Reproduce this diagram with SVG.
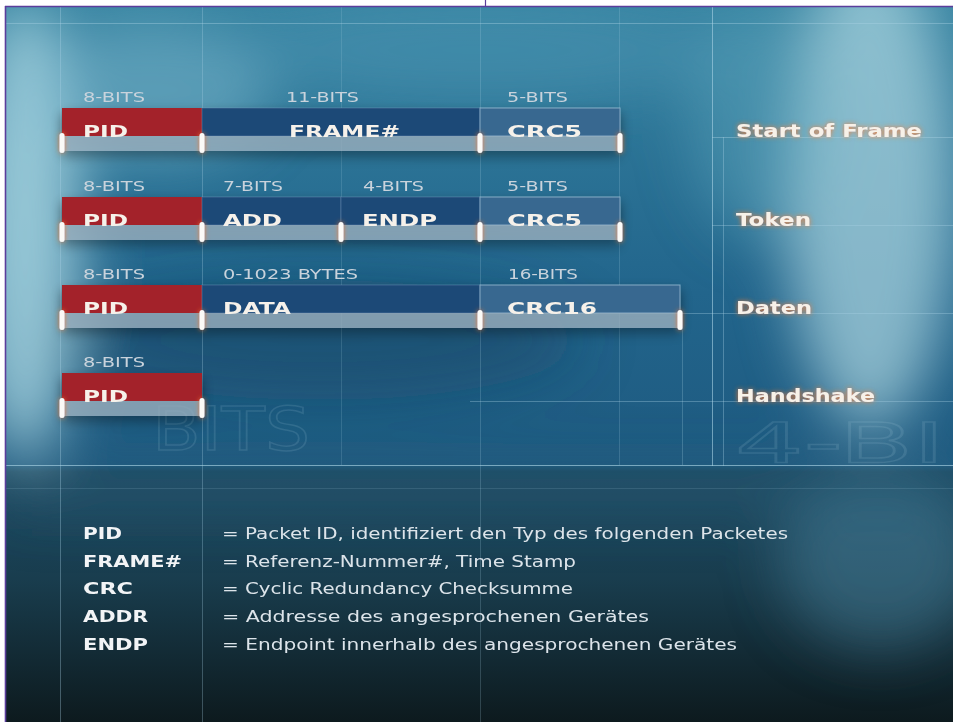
<svg xmlns="http://www.w3.org/2000/svg" width="953" height="722" viewBox="0 0 953 722">
<defs>
<style>
.grid line{stroke:#a9d2e4;stroke-width:1}
.bits{font-family:"DejaVu Sans",sans-serif;font-size:13.5px;fill:#c9d3dc}
.fld{font-family:"DejaVu Sans",sans-serif;font-weight:bold;font-size:16.5px;fill:#f6f1ea}
.lbl{font-family:"DejaVu Sans",sans-serif;font-weight:bold;font-size:17px;fill:#f7f1e8}
.term{font-family:"DejaVu Sans",sans-serif;font-weight:bold;font-size:16px;fill:#f2f4f6}
.def{font-family:"DejaVu Sans",sans-serif;font-size:16px;fill:#dce4ea}
.pid{fill:#a3232b}
.mid{fill:#1d4977;stroke:#6f93b5;stroke-opacity:.45;stroke-width:1}
.crc{fill:#386890;stroke:#a8c6dc;stroke-opacity:.7;stroke-width:1}
.bar{fill:#a3b8c8;fill-opacity:.7}
.tick{fill:#fbfaf7}
.wm{font-family:"DejaVu Sans",sans-serif;fill:none;stroke:#b4d4e4;stroke-opacity:.14;stroke-width:1.5}
</style>
<filter id="soft" x="-50%" y="-50%" width="200%" height="200%"><feGaussianBlur stdDeviation="28"/></filter>
<filter id="glow" x="-30%" y="-60%" width="160%" height="220%">
<feGaussianBlur in="SourceAlpha" stdDeviation="2.4" result="b"/>
<feFlood flood-color="#ff7a2a" flood-opacity="0.85"/>
<feComposite in2="b" operator="in" result="g"/>
<feMerge><feMergeNode in="g"/><feMergeNode in="SourceGraphic"/></feMerge>
</filter>
<filter id="shadow" x="-10%" y="-40%" width="120%" height="200%">
<feGaussianBlur in="SourceAlpha" stdDeviation="6" result="b"/>
<feOffset in="b" dy="6" result="o"/>
<feComponentTransfer in="o" result="s"><feFuncA type="linear" slope="0.45"/></feComponentTransfer>
<feMerge><feMergeNode in="s"/><feMergeNode in="SourceGraphic"/></feMerge>
</filter>
<linearGradient id="base" x1="0" y1="0" x2="0" y2="1">
<stop offset="0" stop-color="#3582a0"/>
<stop offset="0.4" stop-color="#22658c"/>
<stop offset="0.64" stop-color="#1e5a80"/>
<stop offset="0.65" stop-color="#1d4c66"/>
<stop offset="0.8" stop-color="#193d4e"/>
<stop offset="1" stop-color="#0d1a1e"/>
</linearGradient>
<clipPath id="pic"><rect x="6" y="7" width="947" height="715"/></clipPath>
</defs>
<rect x="0" y="0" width="953" height="722" fill="#ffffff"/>
<g id="background" clip-path="url(#pic)">
<rect x="6" y="7" width="947" height="715" fill="url(#base)"/>
<g filter="url(#soft)">
<ellipse cx="25" cy="230" rx="55" ry="230" fill="#a9d6e2" opacity="0.85"/>
<ellipse cx="150" cy="90" rx="120" ry="70" fill="#7cb8cc" opacity="0.55"/>
<ellipse cx="870" cy="190" rx="85" ry="240" fill="#b0d8e2" opacity="0.7"/>
<ellipse cx="760" cy="120" rx="70" ry="120" fill="#6aaec4" opacity="0.4"/>
<ellipse cx="480" cy="50" rx="260" ry="50" fill="#4f98b6" opacity="0.5"/>
<ellipse cx="880" cy="560" rx="100" ry="90" fill="#4f8aa4" opacity="0.45"/>
<ellipse cx="320" cy="340" rx="260" ry="60" fill="#14405f" opacity="0.45"/>
<rect x="6" y="470" width="947" height="40" fill="#2c5e78" opacity="0.4"/>
</g>
<text class="wm" x="152" y="450" font-size="60" textLength="158" lengthAdjust="spacingAndGlyphs">BITS</text>
<text class="wm" x="735" y="462" font-size="56" textLength="210" lengthAdjust="spacingAndGlyphs">4-BI</text>
</g>
<g id="grid" class="grid" clip-path="url(#pic)">
<line x1="60.5" y1="7" x2="60.5" y2="722" stroke-opacity="0.35"/>
<line x1="202.5" y1="7" x2="202.5" y2="722" stroke-opacity="0.3"/>
<line x1="341.5" y1="7" x2="341.5" y2="465" stroke-opacity="0.18"/>
<line x1="480.5" y1="7" x2="480.5" y2="722" stroke-opacity="0.22"/>
<line x1="619.5" y1="7" x2="619.5" y2="465" stroke-opacity="0.2"/>
<line x1="682.5" y1="313" x2="682.5" y2="465" stroke-opacity="0.25"/>
<line x1="712.5" y1="7" x2="712.5" y2="466" stroke-opacity="0.6"/>
<line x1="723.5" y1="137" x2="723.5" y2="466" stroke-opacity="0.35"/>
<line x1="6" y1="23.5" x2="953" y2="23.5" stroke-opacity="0.4"/>
<line x1="712" y1="137.5" x2="953" y2="137.5" stroke-opacity="0.4"/>
<line x1="712" y1="225.5" x2="953" y2="225.5" stroke-opacity="0.35"/>
<line x1="680" y1="313.5" x2="953" y2="313.5" stroke-opacity="0.35"/>
<line x1="470" y1="401.5" x2="953" y2="401.5" stroke-opacity="0.35"/>
<line x1="6" y1="465.5" x2="953" y2="465.5" stroke-opacity="0.65"/>
<line x1="6" y1="488.5" x2="953" y2="488.5" stroke-opacity="0.15"/>
</g>
<g id="frame">
<line x1="5" y1="6.5" x2="953" y2="6.5" stroke="#5b3d9c" stroke-width="1.6"/>
<line x1="5.5" y1="6" x2="5.5" y2="722" stroke="#5b3d9c" stroke-width="1.6"/>
<line x1="485.5" y1="0" x2="485.5" y2="6" stroke="#5b3d9c" stroke-width="1.2"/>
</g>

<g id="row-sof">
<g filter="url(#shadow)">
<rect class="pid" x="62" y="108" width="140" height="28"/>
<rect class="mid" x="202" y="108" width="278" height="28"/>
<rect class="crc" x="480" y="108" width="140" height="28"/>
<rect class="bar" x="62" y="136" width="558" height="15"/>
</g>
<g id="sof-pid"><text class="bits" x="83" y="102" textLength="62" lengthAdjust="spacingAndGlyphs">8-BITS</text><text class="fld" x="83" y="137" textLength="45" lengthAdjust="spacingAndGlyphs">PID</text></g>
<g id="sof-frame"><text class="bits" x="286" y="102" textLength="73" lengthAdjust="spacingAndGlyphs">11-BITS</text><text class="fld" x="289" y="137" textLength="111" lengthAdjust="spacingAndGlyphs">FRAME#</text></g>
<g id="sof-crc5"><text class="bits" x="507" y="102" textLength="61" lengthAdjust="spacingAndGlyphs">5-BITS</text><text class="fld" x="507" y="137" textLength="75" lengthAdjust="spacingAndGlyphs">CRC5</text></g>
<g filter="url(#glow)">
<rect class="tick" x="59.5" y="133" width="5" height="20" rx="2.5"/>
<rect class="tick" x="199.5" y="133" width="5" height="20" rx="2.5"/>
<rect class="tick" x="477.5" y="133" width="5" height="20" rx="2.5"/>
<rect class="tick" x="617.5" y="133" width="5" height="20" rx="2.5"/>
</g>
<g id="sof-label"><text class="lbl" x="736" y="137" textLength="186" lengthAdjust="spacingAndGlyphs" filter="url(#glow)">Start of Frame</text></g>
</g>

<g id="row-token">
<g filter="url(#shadow)">
<rect class="pid" x="62" y="197" width="140" height="28"/>
<rect class="mid" x="202" y="197" width="139" height="28"/>
<rect class="mid" x="341" y="197" width="139" height="28"/>
<rect class="crc" x="480" y="197" width="140" height="28"/>
<rect class="bar" x="62" y="225" width="558" height="15"/>
</g>
<g id="tok-pid"><text class="bits" x="83" y="191" textLength="62" lengthAdjust="spacingAndGlyphs">8-BITS</text><text class="fld" x="83" y="226" textLength="45" lengthAdjust="spacingAndGlyphs">PID</text></g>
<g id="tok-add"><text class="bits" x="223" y="191" textLength="60" lengthAdjust="spacingAndGlyphs">7-BITS</text><text class="fld" x="223" y="226" textLength="59" lengthAdjust="spacingAndGlyphs">ADD</text></g>
<g id="tok-endp"><text class="bits" x="363" y="191" textLength="61" lengthAdjust="spacingAndGlyphs">4-BITS</text><text class="fld" x="362" y="226" textLength="75" lengthAdjust="spacingAndGlyphs">ENDP</text></g>
<g id="tok-crc5"><text class="bits" x="507" y="191" textLength="61" lengthAdjust="spacingAndGlyphs">5-BITS</text><text class="fld" x="507" y="226" textLength="75" lengthAdjust="spacingAndGlyphs">CRC5</text></g>
<g filter="url(#glow)">
<rect class="tick" x="59.5" y="222" width="5" height="20" rx="2.5"/>
<rect class="tick" x="199.5" y="222" width="5" height="20" rx="2.5"/>
<rect class="tick" x="338.5" y="222" width="5" height="20" rx="2.5"/>
<rect class="tick" x="477.5" y="222" width="5" height="20" rx="2.5"/>
<rect class="tick" x="617.5" y="222" width="5" height="20" rx="2.5"/>
</g>
<g id="tok-label"><text class="lbl" x="736" y="226" textLength="75" lengthAdjust="spacingAndGlyphs" filter="url(#glow)">Token</text></g>
</g>

<g id="row-data">
<g filter="url(#shadow)">
<rect class="pid" x="62" y="285" width="140" height="28"/>
<rect class="mid" x="202" y="285" width="278" height="28"/>
<rect class="crc" x="480" y="285" width="200" height="28"/>
<rect class="bar" x="62" y="313" width="618" height="15"/>
</g>
<g id="dat-pid"><text class="bits" x="83" y="279" textLength="62" lengthAdjust="spacingAndGlyphs">8-BITS</text><text class="fld" x="83" y="314" textLength="45" lengthAdjust="spacingAndGlyphs">PID</text></g>
<g id="dat-data"><text class="bits" x="223" y="279" textLength="135" lengthAdjust="spacingAndGlyphs">0-1023 BYTES</text><text class="fld" x="223" y="314" textLength="68" lengthAdjust="spacingAndGlyphs">DATA</text></g>
<g id="dat-crc16"><text class="bits" x="508" y="279" textLength="70" lengthAdjust="spacingAndGlyphs">16-BITS</text><text class="fld" x="507" y="314" textLength="90" lengthAdjust="spacingAndGlyphs">CRC16</text></g>
<g filter="url(#glow)">
<rect class="tick" x="59.5" y="310" width="5" height="20" rx="2.5"/>
<rect class="tick" x="199.5" y="310" width="5" height="20" rx="2.5"/>
<rect class="tick" x="477.5" y="310" width="5" height="20" rx="2.5"/>
<rect class="tick" x="677.5" y="310" width="5" height="20" rx="2.5"/>
</g>
<g id="dat-label"><text class="lbl" x="736" y="314" textLength="76" lengthAdjust="spacingAndGlyphs" filter="url(#glow)">Daten</text></g>
</g>

<g id="row-handshake">
<g filter="url(#shadow)">
<rect class="pid" x="62" y="373" width="140" height="28"/>
<rect class="bar" x="62" y="401" width="140" height="15"/>
</g>
<g id="hs-pid"><text class="bits" x="83" y="367" textLength="62" lengthAdjust="spacingAndGlyphs">8-BITS</text><text class="fld" x="83" y="402" textLength="45" lengthAdjust="spacingAndGlyphs">PID</text></g>
<g filter="url(#glow)">
<rect class="tick" x="59.5" y="398" width="5" height="20" rx="2.5"/>
<rect class="tick" x="199.5" y="398" width="5" height="20" rx="2.5"/>
</g>
<g id="hs-label"><text class="lbl" x="736" y="402" textLength="139" lengthAdjust="spacingAndGlyphs" filter="url(#glow)">Handshake</text></g>
</g>

<g id="legend">
<text class="term" x="83" y="539" textLength="39" lengthAdjust="spacingAndGlyphs">PID</text>
<text class="def" x="222" y="539" textLength="566" lengthAdjust="spacingAndGlyphs">= Packet ID, identifiziert den Typ des folgenden Packetes</text>
<text class="term" x="83" y="567" textLength="99" lengthAdjust="spacingAndGlyphs">FRAME#</text>
<text class="def" x="222" y="567" textLength="354" lengthAdjust="spacingAndGlyphs">= Referenz-Nummer#, Time Stamp</text>
<text class="term" x="83" y="594" textLength="50" lengthAdjust="spacingAndGlyphs">CRC</text>
<text class="def" x="222" y="594" textLength="351" lengthAdjust="spacingAndGlyphs">= Cyclic Redundancy Checksumme</text>
<text class="term" x="83" y="622" textLength="65" lengthAdjust="spacingAndGlyphs">ADDR</text>
<text class="def" x="222" y="622" textLength="427" lengthAdjust="spacingAndGlyphs">= Addresse des angesprochenen Gerätes</text>
<text class="term" x="83" y="650" textLength="65" lengthAdjust="spacingAndGlyphs">ENDP</text>
<text class="def" x="222" y="650" textLength="515" lengthAdjust="spacingAndGlyphs">= Endpoint innerhalb des angesprochenen Gerätes</text>
</g>
</svg>
